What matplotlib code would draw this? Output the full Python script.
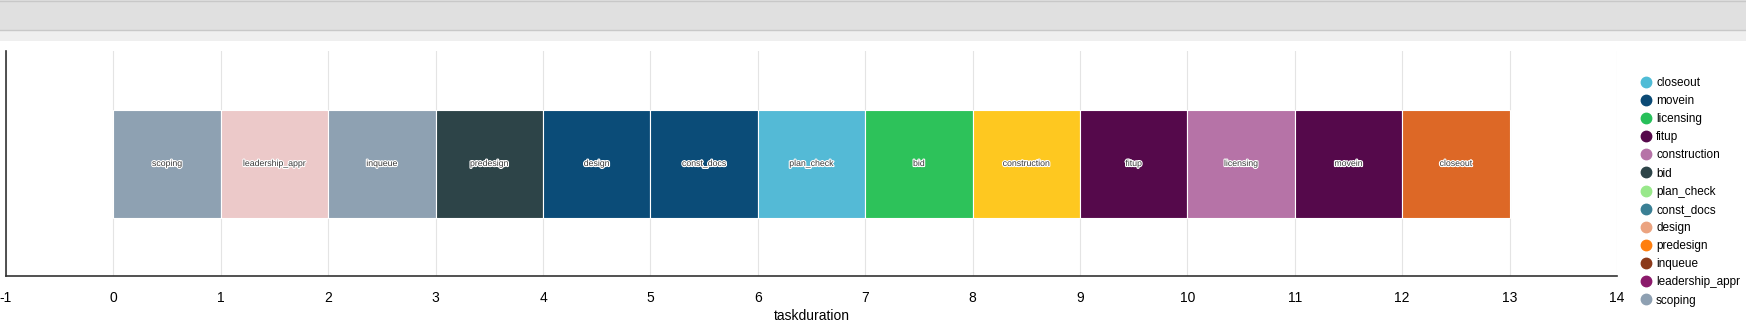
import matplotlib
matplotlib.use("Agg")
import matplotlib.pyplot as plt
import matplotlib.patheffects as pe
from matplotlib.lines import Line2D
from matplotlib.patches import Rectangle

plt.rcParams['font.family'] = ['Liberation Sans', 'DejaVu Sans']
plt.rcParams['axes.unicode_minus'] = False

# tasks drawn in timeline order
tasks = ["scoping", "leadership_appr", "inqueue", "predesign", "design", "const_docs",
         "plan_check", "bid", "construction", "fitup", "licensing", "movein", "closeout"]
starts = [0, 1, 2, 3, 4, 5, 6, 7, 8, 9, 10, 11, 12]
durations = [1, 1, 1, 1, 1, 1, 1, 1, 1, 1, 1, 1, 1]
bar_colors = ["#8ea1b2", "#ecc9c9", "#8ea1b2", "#2d4448", "#0b4c78", "#0b4c78",
              "#54bad6", "#2dc25a", "#fec820", "#55094b", "#b673a7", "#55094b", "#dd6826"]

# legend as shown (colours do not line up with the bars)
legend_names = ["closeout", "movein", "licensing", "fitup", "construction", "bid",
                "plan_check", "const_docs", "design", "predesign", "inqueue",
                "leadership_appr", "scoping"]
legend_colors = ["#4fbcd6", "#0b4a75", "#27c05a", "#55094b", "#b673a7", "#2d4448",
                 "#98e88a", "#3a7f94", "#eba380", "#ff7f0e", "#8b3a1a", "#8b1a6b", "#8ea0b2"]

W, H = 1746, 320
fig = plt.figure(figsize=(W / 100, H / 100), dpi=100)

# header bands
fig.patches.append(Rectangle((0, 1 - 30 / H), 1, 30 / H, transform=fig.transFigure,
                             facecolor="#e0e0e0", edgecolor="none"))
fig.patches.append(Rectangle((0, 1 - 41 / H), 1, 11 / H, transform=fig.transFigure,
                             facecolor="#efefef", edgecolor="none"))
fig.add_artist(Line2D([0, 1], [1 - 1 / H, 1 - 1 / H], transform=fig.transFigure,
                      color="#c8c8c8", lw=1))
fig.add_artist(Line2D([0, 1], [1 - 30 / H, 1 - 30 / H], transform=fig.transFigure,
                      color="#c8c8c8", lw=1))

left, right, top, bottom = 6, 1617, 51, 276
ax = fig.add_axes([left / W, (H - bottom) / H, (right - left) / W, (bottom - top) / H])

ax.barh([0] * len(tasks), durations, left=starts, height=0.48, color=bar_colors,
        edgecolor="white", linewidth=0.8, zorder=3)
for t, s, d in zip(tasks, starts, durations):
    ax.text(s + d / 2, 0.0, t, ha="center", va="center", fontsize=6.3, color="#3a3a3a",
            zorder=4, path_effects=[pe.withStroke(linewidth=1.6, foreground="white")])

ax.set_xlim(-1, 14)
ax.set_ylim(-0.5, 0.5)
ax.set_xticks(range(-1, 15))
ax.set_yticks([])
ax.grid(axis="x", color="#e4e4e4", linewidth=0.8, zorder=0)
ax.tick_params(axis="x", length=0, labelsize=10, pad=11)
for s in ["top", "right"]:
    ax.spines[s].set_visible(False)
ax.spines["left"].set_color("#333333")
ax.spines["bottom"].set_color("#333333")
ax.spines["left"].set_linewidth(1.2)
ax.spines["bottom"].set_linewidth(1.2)
ax.set_xlabel("taskduration", fontsize=10, labelpad=3)

handles = [Line2D([], [], marker="o", linestyle="", markersize=7.5, color=c) for c in legend_colors]
fig.legend(handles, legend_names, loc="upper left", bbox_to_anchor=(1633 / W, 1 - 71 / H),
           frameon=False, fontsize=8.5, handletextpad=0.25, labelspacing=0.52,
           borderpad=0, handlelength=1.2)

fig.savefig("out.png", dpi=100)
